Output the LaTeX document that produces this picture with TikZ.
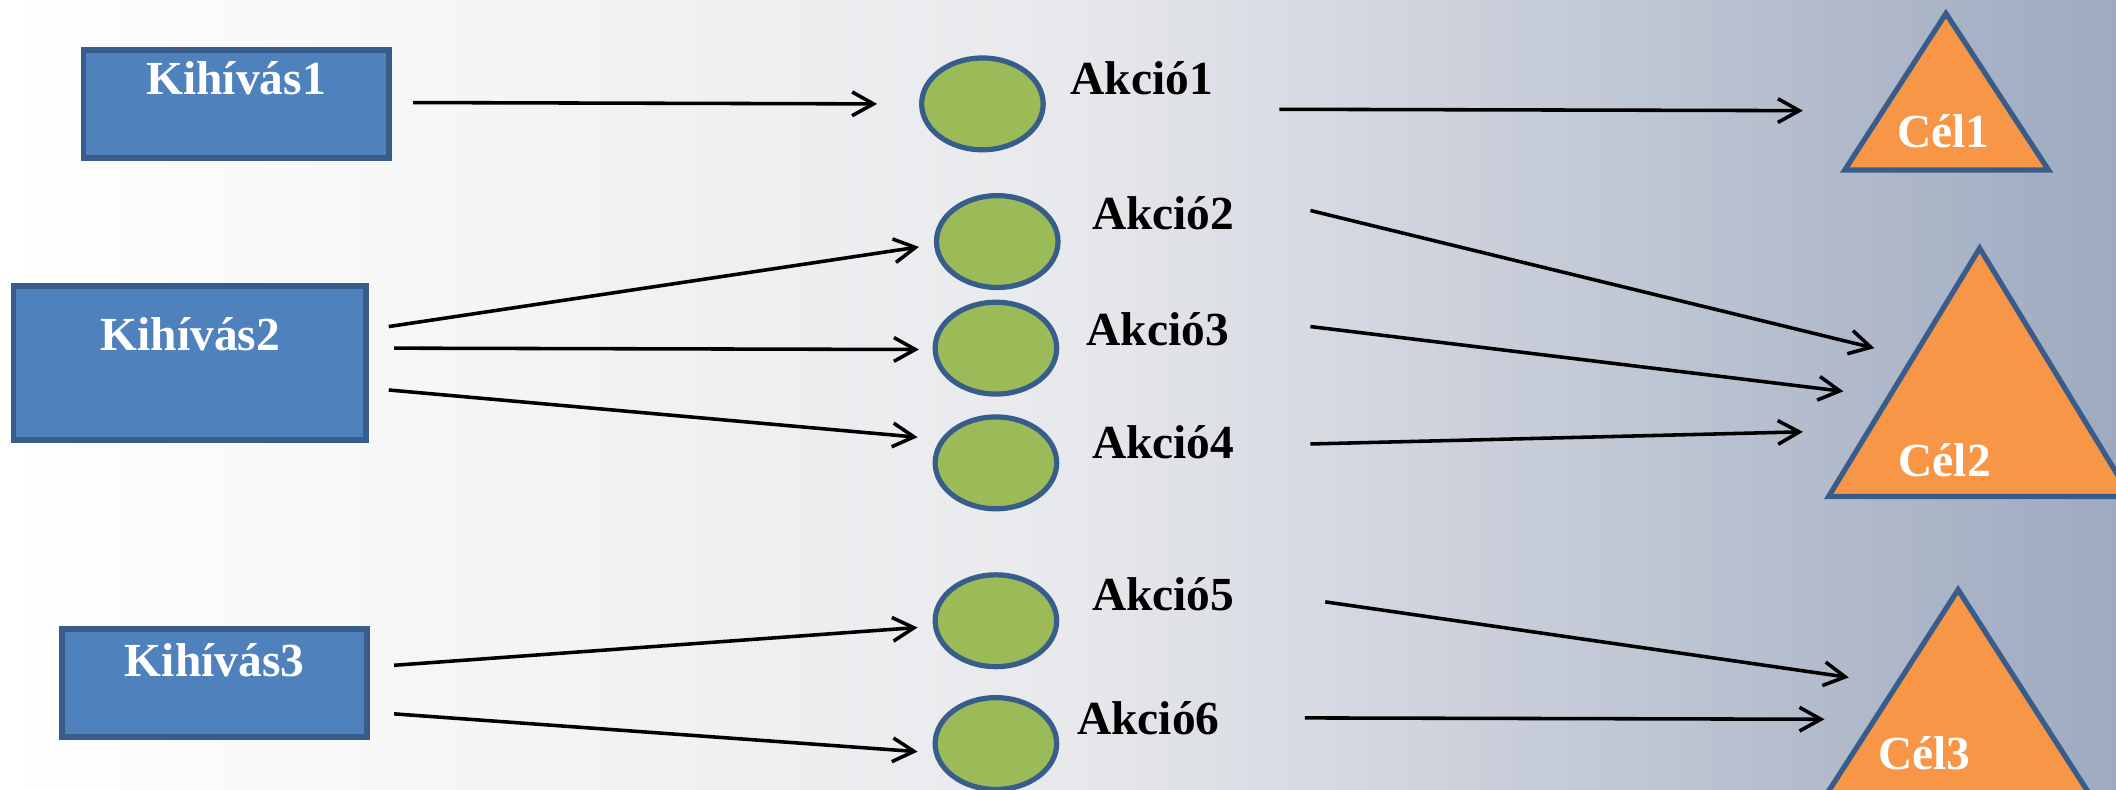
\documentclass[tikz,border=0pt]{standalone}
\usepackage{fontspec}
\setmainfont{Liberation Serif}
\usetikzlibrary{arrows.meta,shapes.geometric}

\definecolor{boxblue}{HTML}{4F81BD}
\definecolor{boxline}{HTML}{385D8A}
\definecolor{actgreen}{HTML}{9BBB59}
\definecolor{goalorange}{HTML}{F79646}
\definecolor{bgmid}{HTML}{E8E9EC}
\definecolor{bgright}{HTML}{9EAAC0}

\begin{document}
\begin{tikzpicture}[x=0.01cm, y=0.01cm,
    challenge/.style={draw=boxline, line width=1.2pt, fill=boxblue, outer sep=0pt, minimum width=2.26cm, minimum height=0.8cm},
    action/.style={ellipse, draw=boxline, line width=1.1pt, fill=actgreen, outer sep=0pt, minimum width=0.9cm, minimum height=0.68cm},
    goal/.style={draw=boxline, line width=1.1pt, fill=goalorange},
    ctext/.style={text=white, font=\bfseries},
    actlabel/.style={text=black, font=\bfseries},
    arr/.style={line width=0.75pt, -{Straight Barb[length=4.5pt,width=5pt]}}]
    % Background: white on the left, grey-blue on the right
    \clip (0,0) rectangle (1568,585);
    \shade[left color=white, right color=bgmid] (0,0) rectangle (784,585);
    \shade[left color=bgmid, right color=bgright] (784,0) rectangle (1568,585);

    % Draw the challenges (blue boxes)
    \node[challenge] (k1) at (175,508) {};
    \node[challenge, minimum width=2.61cm, minimum height=1.14cm] (k2) at (140.5,316) {};
    \node[challenge] (k3) at (159,79) {};
    \node[ctext] (t1) at (175,527) {Kihívás1};
    \node[ctext] (t2) at (141,337) {Kihívás2};
    \node[ctext] (t3) at (159,96) {Kihívás3};

    % Draw the actions (green ellipses) and their labels
    \foreach \n/\x/\y in {1/728/508, 2/739/406, 3/738/327, 4/738/242, 5/738/125, 6/738/34} {
        \node[action] (a\n) at (\x,\y) {};
    }
    \foreach \n/\x/\y in {1/846/527, 2/862/427, 3/858/341, 4/862/257, 5/862/145, 6/851/53} {
        \node[actlabel] (l\n) at (\x,\y) {Akció\n};
    }

    % Draw the goals (orange triangles)
    \draw[goal] (1367,459) -- (1442,575) -- (1518,459) -- cycle;
    \draw[goal] (1355,217) -- (1467,401) -- (1579,217) -- cycle;
    \draw[goal] (1343,-20) -- (1451,148) -- (1559,-20) -- cycle;
    \node[ctext] (g1) at (1440,488) {Cél1};
    \node[ctext] (g2) at (1441,244) {Cél2};
    \node[ctext] (g3) at (1426,27) {Cél3};

    % Arrows from the challenges to the actions
    \draw[arr] ([shift={(18,1)}]k1.east) -- ([shift={(-33,0)}]a1.west);
    \draw[arr] ([shift={(17,27)}]k2.east) -- ([shift={(-13,-4)}]a2.west);
    \draw[arr] ([shift={(21,11)}]k2.east) -- ([shift={(-12,-1)}]a3.west);
    \draw[arr] ([shift={(17,-20)}]k2.east) -- ([shift={(-13,19)}]a4.west);
    \draw[arr] ([shift={(20,13)}]k3.east) -- ([shift={(-13,-5)}]a5.west);
    \draw[arr] ([shift={(20,-23)}]k3.east) -- ([shift={(-13,-6)}]a6.west);

    % Arrows from the actions to the goals
    \draw[arr] ([shift={(175,-4)}]a1.east) -- ([shift={(-104,15)}]g1.center);
    \draw[arr] ([shift={(187,23)}]a2.east) -- ([shift={(-52,83)}]g2.center);
    \draw[arr] ([shift={(188,16)}]a3.east) -- ([shift={(-75,51)}]g2.center);
    \draw[arr] ([shift={(188,14)}]a4.east) -- ([shift={(-105,21)}]g2.center);
    \draw[arr] ([shift={(199,14)}]a5.east) -- ([shift={(-56,56)}]g3.center);
    \draw[arr] ([shift={(184,19)}]a6.east) -- ([shift={(-74,25)}]g3.center);
\end{tikzpicture}
\end{document}
